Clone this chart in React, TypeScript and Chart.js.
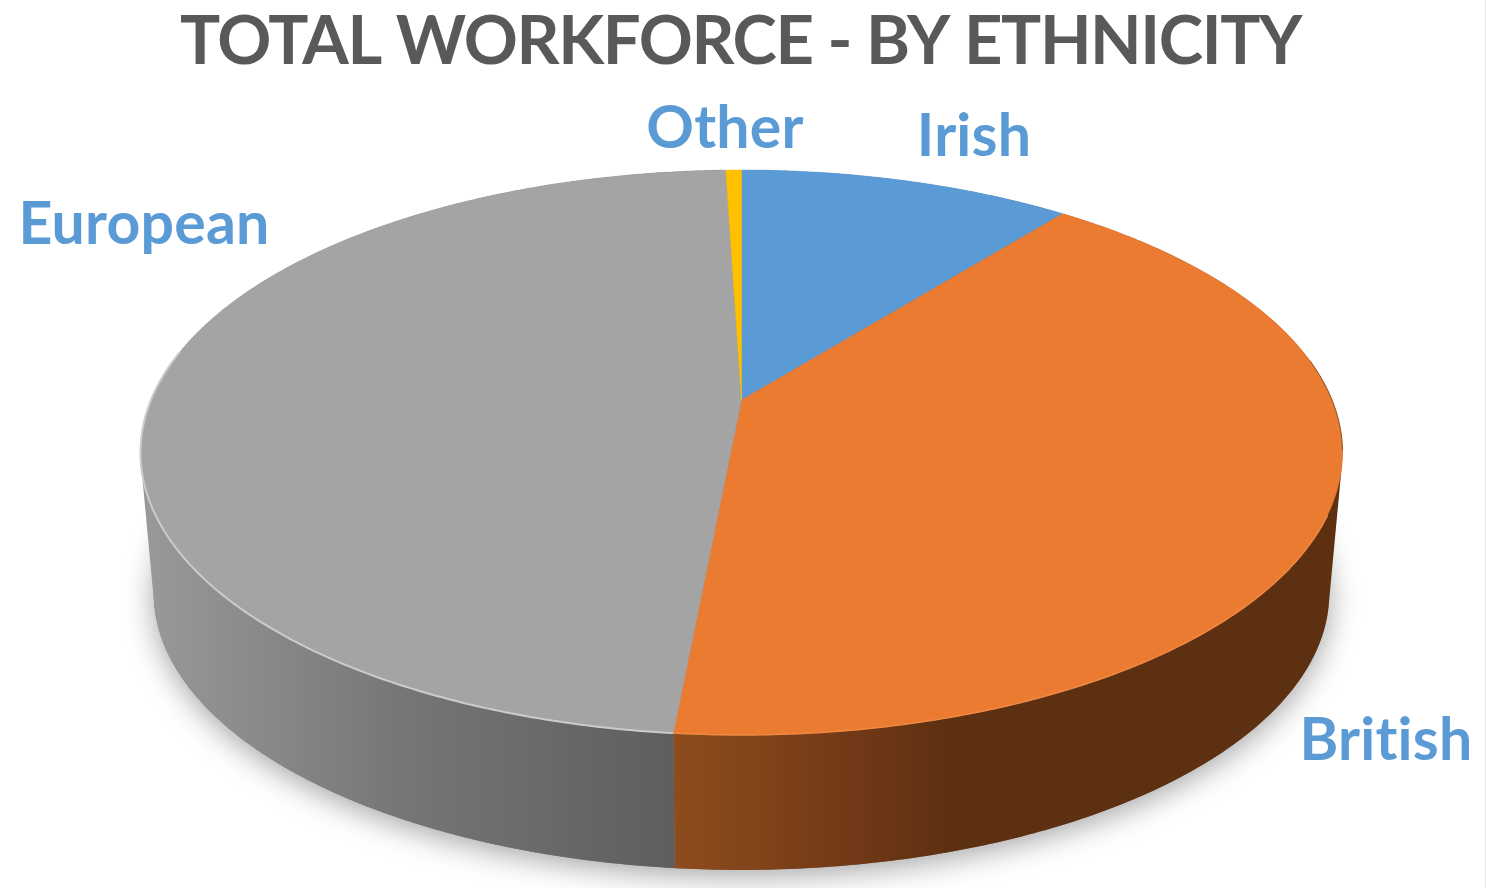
import { useEffect, useRef } from "react";
import { Chart, registerables, type Plugin } from "chart.js";

Chart.register(...registerables);

const categories = ["Irish", "British", "European", "Other"];
const shares = [10.7, 40.8, 48.0, 0.5];
const sliceColors = ["#5B9BD5", "#EA7B30", "#A4A4A4", "#FFC000"];
const chartTitle = "TOTAL WORKFORCE - BY ETHNICITY";

// where the category names sit, same order as categories
const labelAnchors = [
  { x: 974, y: 156 },
  { x: 1386, y: 760 },
  { x: 144, y: 244 },
  { x: 725, y: 148 },
];

// wall shading, left to right, as fraction of the canvas width
const wallStops: [number, string][][] = [
  [[0, "#3a6a96"], [1, "#3a6a96"]],
  [[0.454, "#8e4c1d"], [0.58, "#703816"], [0.64, "#5d3012"], [1, "#5d3012"]],
  [[0.094, "#9a9a9a"], [0.27, "#767676"], [0.454, "#5e5e5e"]],
  [[0, "#a07a00"], [1, "#a07a00"]],
];

// perspective of the disc: apex on screen, tilt and radii in px
const APEX_X = 741.5;
const APEX_Y = 400;
const TILT = 0.1858;
const RADIUS_X = 590.5;
const RADIUS_Y = 272.7;
const WALL_SHRINK = 0.978;
const WALL_DROP = 141.7;

type Pt = { x: number; y: number };

function topRim(t: number): Pt {
  const u = Math.sin(t);
  const v = -Math.cos(t);
  const w = 1 - TILT * v;
  return { x: APEX_X + (RADIUS_X * u) / w, y: APEX_Y + (RADIUS_Y * v) / w };
}

function bottomRim(t: number): Pt {
  const p = topRim(t);
  return {
    x: APEX_X + (p.x - APEX_X) * WALL_SHRINK,
    y: APEX_Y + (p.y - APEX_Y) * 0.98 + WALL_DROP,
  };
}

function anglesOf(start: number, end: number) {
  const out: number[] = [];
  const steps = Math.max(2, Math.ceil((end - start) / 0.01));
  for (let i = 0; i <= steps; i++) out.push(start + ((end - start) * i) / steps);
  return out;
}

function quadArea(q: Pt[]) {
  let sum = 0;
  q.forEach((p, i) => {
    const n = q[(i + 1) % q.length];
    sum += p.x * n.y - n.x * p.y;
  });
  return sum;
}

const disc3d: Plugin<"pie"> = {
  id: "disc3d",
  beforeDraw(chart) {
    // tightens the title, Lato runs wider than the original face
    (chart.ctx as any).letterSpacing = "-1.4px";
  },
  beforeDatasetDraw(chart, args) {
    const { ctx, width } = chart;
    const arcs = chart.getDatasetMeta(args.index).data as any[];
    const slices = arcs.map((a, i) => ({
      // chart.js starts at -90deg, here 0 is the top of the disc
      start: a.startAngle + Math.PI / 2,
      end: a.endAngle + Math.PI / 2,
      color: a.options.backgroundColor as string,
      i,
    }));

    // soft shadow under the disc
    ctx.save();
    ctx.shadowColor = "rgba(0,0,0,0.36)";
    ctx.shadowBlur = 30;
    ctx.shadowOffsetY = 6;
    ctx.fillStyle = "#777";
    ctx.beginPath();
    anglesOf(0, Math.PI * 2).forEach((t) => {
      const p = bottomRim(t);
      ctx.lineTo(p.x, p.y);
    });
    ctx.closePath();
    ctx.fill();
    ctx.restore();

    // side wall: all quads in one path, wound the same way, so no seams show
    slices.forEach((s) => {
      const ts = anglesOf(s.start, s.end);
      const grad = ctx.createLinearGradient(0, 0, width, 0);
      wallStops[s.i].forEach(([o, c]) => grad.addColorStop(o, c));
      ctx.fillStyle = grad;
      ctx.beginPath();
      for (let k = 0; k < ts.length - 1; k++) {
        let quad = [topRim(ts[k]), topRim(ts[k + 1]), bottomRim(ts[k + 1]), bottomRim(ts[k])];
        if (quadArea(quad) < 0) quad = quad.reverse();
        ctx.moveTo(quad[0].x, quad[0].y);
        quad.slice(1).forEach((p) => ctx.lineTo(p.x, p.y));
        ctx.closePath();
      }
      ctx.fill();
    });

    // top face
    slices.forEach((s) => {
      ctx.fillStyle = s.color;
      ctx.strokeStyle = s.color;
      ctx.lineWidth = 0.5;
      ctx.beginPath();
      ctx.moveTo(APEX_X, APEX_Y);
      anglesOf(s.start, s.end).forEach((t) => {
        const p = topRim(t);
        ctx.lineTo(p.x, p.y);
      });
      ctx.closePath();
      ctx.fill();
      ctx.stroke();
    });

    // bevel along the front rim of the big slices
    const bevel = (from: number, to: number, color: string, w: number) => {
      ctx.strokeStyle = color;
      ctx.lineWidth = w;
      ctx.beginPath();
      anglesOf(from, to).forEach((t) => {
        const p = topRim(t);
        ctx.lineTo(p.x, p.y);
      });
      ctx.stroke();
    };
    bevel(slices[2].start, slices[2].start + (slices[2].end - slices[2].start) * 0.55, "#cbcbcb", 2);
    bevel(slices[1].start + 0.75, slices[1].start + 1.08, "#8a5a30", 1);
    bevel(slices[1].start + 1.3, slices[1].end, "#f08a42", 1.5);

    return false;
  },
  afterDatasetsDraw(chart) {
    const { ctx } = chart;
    ctx.save();
    ctx.font = "bold 59px Lato";
    (ctx as any).letterSpacing = "0.2px";
    ctx.fillStyle = "#5B9BD5";
    ctx.textAlign = "center";
    ctx.textBaseline = "alphabetic";
    categories.forEach((name, i) => {
      ctx.fillText(name, labelAnchors[i].x, labelAnchors[i].y);
    });
    ctx.restore();
  },
};

export default function App() {
  const canvasRef = useRef<HTMLCanvasElement>(null);

  useEffect(() => {
    document.body.style.margin = "0";
    if (!canvasRef.current) return;
    const chart = new Chart(canvasRef.current, {
      type: "pie",
      data: {
        labels: categories,
        datasets: [{ data: shares, backgroundColor: sliceColors, borderWidth: 0 }],
      },
      options: {
        responsive: false,
        animation: false,
        events: [],
        layout: { padding: { right: 4 } },
        plugins: {
          legend: { display: false },
          tooltip: { enabled: false },
          title: {
            display: true,
            text: chartTitle,
            color: "#595959",
            font: { family: "Lato", weight: "bold", size: 67 },
            padding: { top: 2, bottom: 0 },
          },
        },
      },
      plugins: [disc3d],
    });
    return () => chart.destroy();
  }, []);

  return (
    <div style={{ width: 1486, height: 888, overflow: "hidden", background: "#fff", borderRight: "1px solid #e8e8e8", boxSizing: "border-box" }}>
      <canvas ref={canvasRef} width={1485} height={888} style={{ display: "block" }} />
    </div>
  );
}
